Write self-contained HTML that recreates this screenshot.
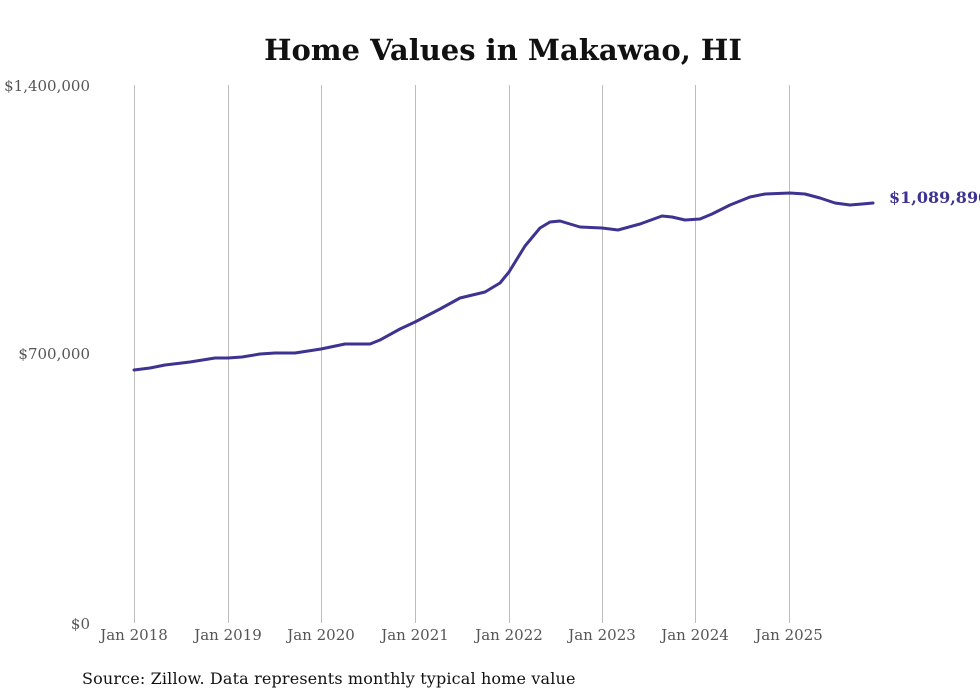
<!DOCTYPE html>
<html><head><meta charset="utf-8"><style>
html,body{margin:0;padding:0;background:#fff;}
svg{display:block;}
</style></head><body>
<svg width="980" height="699" xmlns="http://www.w3.org/2000/svg">
<rect width="980" height="699" fill="#fff"/>
<text x="503" y="60" text-anchor="middle" font-family="DejaVu Serif, Liberation Serif, serif" font-weight="bold" font-size="29" fill="#111">Home Values in Makawao, HI</text>
<g stroke="#bdbdbd" stroke-width="1">
<line x1="134.5" y1="85" x2="134.5" y2="623"/>
<line x1="228.5" y1="85" x2="228.5" y2="623"/>
<line x1="321.5" y1="85" x2="321.5" y2="623"/>
<line x1="415.5" y1="85" x2="415.5" y2="623"/>
<line x1="509.5" y1="85" x2="509.5" y2="623"/>
<line x1="602.5" y1="85" x2="602.5" y2="623"/>
<line x1="695.5" y1="85" x2="695.5" y2="623"/>
<line x1="789.5" y1="85" x2="789.5" y2="623"/>
</g>
<g font-family="DejaVu Serif, Liberation Serif, serif" font-size="15" fill="#555">
<text x="90" y="91" text-anchor="end">$1,400,000</text>
<text x="90" y="359" text-anchor="end">$700,000</text>
<text x="90" y="629" text-anchor="end">$0</text>
<g text-anchor="middle">
<text x="134" y="640">Jan 2018</text>
<text x="228" y="640">Jan 2019</text>
<text x="321" y="640">Jan 2020</text>
<text x="415" y="640">Jan 2021</text>
<text x="509" y="640">Jan 2022</text>
<text x="602" y="640">Jan 2023</text>
<text x="695" y="640">Jan 2024</text>
<text x="789" y="640">Jan 2025</text>
</g>
</g>
<polyline fill="none" stroke="#3d3391" stroke-width="3" stroke-linejoin="round" stroke-linecap="round" points="134,370 150,368 165,365 190,362 215,358 228,358 242,357 260,354 275,353 295,353 321,349 345,344 370,344 380,340 400,329 415,322 440,309 460,298 485,292 500,283 509,272 525,246 540,228 550,222 560,221 580,227 602,228 618,230 640,224 662,216 672,217 685,220 700,219 712,214 730,205 750,197 765,194 790,193 805,194 820,198 835,203 850,205 862,204 873,203"/>
<text x="889" y="203" font-family="DejaVu Serif, Liberation Serif, serif" font-weight="bold" font-size="16" fill="#3d3391">$1,089,890</text>
<text x="82" y="684" font-family="DejaVu Serif, Liberation Serif, serif" font-size="16" letter-spacing="0.15" fill="#111">Source: Zillow. Data represents monthly typical home value</text>
</svg>
</body></html>
